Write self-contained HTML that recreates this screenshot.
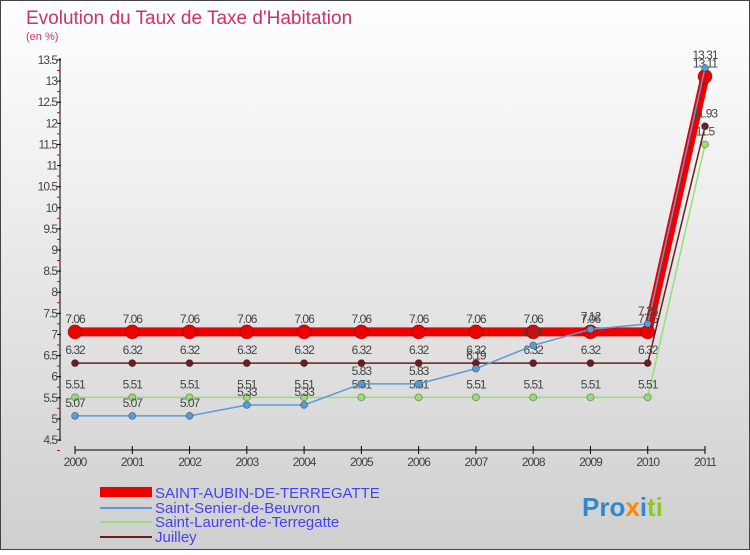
<!DOCTYPE html>
<html><head><meta charset="utf-8"><style>
body{margin:0;width:750px;height:550px;overflow:hidden;font-family:"Liberation Sans",sans-serif}
</style></head><body>
<svg width="750" height="550" xmlns="http://www.w3.org/2000/svg">
<defs><linearGradient id="bg" x1="0" y1="0" x2="0" y2="1"><stop offset="0" stop-color="#ffffff"/><stop offset="1" stop-color="#cfcfcf"/></linearGradient></defs>
<rect x="0.5" y="0.5" width="749" height="549" fill="url(#bg)" stroke="#444"/>
<text x="26" y="24" font-size="19" fill="#cc3366">Evolution du Taux de Taxe d'Habitation</text>
<text x="26" y="40" font-size="11" fill="#cc3366">(en %)</text>
<g id="axes"></g><g id="series"></g>
<g>
<rect x="100" y="487" width="52" height="10" fill="#ee0000"/>
<line x1="100" y1="508" x2="152" y2="508" stroke="#5b9bd5" stroke-width="2"/>
<line x1="100" y1="522" x2="152" y2="522" stroke="#99dd77" stroke-width="2"/>
<line x1="100" y1="537" x2="152" y2="537" stroke="#6b1e1e" stroke-width="2"/>
<text x="155" y="498" font-size="15" fill="#4444ee">SAINT-AUBIN-DE-TERREGATTE</text>
<text x="155" y="513" font-size="15" fill="#4444ee">Saint-Senier-de-Beuvron</text>
<text x="155" y="527" font-size="15" fill="#4444ee">Saint-Laurent-de-Terregatte</text>
<text x="155" y="542" font-size="15" fill="#4444ee">Juilley</text>
</g>
<text x="582" y="516" font-size="26" font-weight="bold"><tspan fill="#3388cc">Pro</tspan><tspan fill="#ff8800">x</tspan><tspan fill="#3388cc">i</tspan><tspan fill="#88cc22">ti</tspan></text>
</svg>
<script>
const years=["2000","2001","2002","2003","2004","2005","2006","2007","2008","2009","2010","2011"];
const yTicks=[4.5,5,5.5,6,6.5,7,7.5,8,8.5,9,9.5,10,10.5,11,11.5,12,12.5,13,13.5];
const juilley=[6.32,6.32,6.32,6.32,6.32,6.32,6.32,6.32,6.32,6.32,6.32,11.93];
const saintLaurent=[5.51,5.51,5.51,5.51,5.51,5.51,5.51,5.51,5.51,5.51,5.51,11.5];
const saintSenier=[5.07,5.07,5.07,5.33,5.33,5.83,5.83,6.19,6.74,7.12,7.25,13.31];
const saintAubin=[7.06,7.06,7.06,7.06,7.06,7.06,7.06,7.06,7.06,7.06,7.06,13.11];
const NS="http://www.w3.org/2000/svg";
const X=i=>75+i*(630/11);
const Y=v=>440-(v-4.5)*(380/9);
function mk(t,a,p){const e=document.createElementNS(NS,t);for(const k in a)e.setAttribute(k,a[k]);p.appendChild(e);return e;}
const ax=document.getElementById('axes');
const yl=mk('line',{x1:60,y1:58,x2:60,y2:441,stroke:'#000'},ax);


yTicks.forEach(v=>{
 const t=mk('line',{x1:57,y1:Y(v),x2:61,y2:Y(v),stroke:'#000'},ax);
 
 
 const m=mk('line',{x1:57,y1:Y(v)+10.5,x2:60,y2:Y(v)+10.5,stroke:'#e00'},ax);
 
 
 const l=mk('text',{x:57,y:Y(v)+4,'font-size':12,'text-anchor':'end',fill:'#444','letter-spacing':'-1'},ax);
 l.textContent=String(v);
 
 
});
const xl=mk('line',{x1:75,y1:450,x2:705,y2:450,stroke:'#000'},ax);


years.forEach((y,i)=>{
 const t=mk('line',{x1:X(i),y1:446,x2:X(i),y2:454,stroke:'#000'},ax);
 
 
 const l=mk('text',{x:X(i),y:466,'font-size':12,'text-anchor':'middle',fill:'#444','letter-spacing':'-1'},ax);
 l.textContent=y;
 
 
});
const sg=document.getElementById('series');
function draw(vals,color,w,r,name){
 const g=mk('g',{},sg);
 
 
 const p=mk('polyline',{points:vals.map((v,i)=>X(i)+','+Y(v)).join(' '),fill:'none',stroke:color,'stroke-width':w},g);
 
 
 vals.forEach((v,i)=>{
  const c=mk('circle',{cx:X(i),cy:Y(v),r:r,fill:color,stroke:'rgba(0,0,0,0.3)'},g);
  
  
  const t=mk('text',{x:X(i),y:Y(v)-9,'font-size':12,'text-anchor':'middle',fill:'#444','letter-spacing':'-1'},g);
  t.textContent=String(v);
  
  
 });
}
draw(saintAubin,'#ee0000',9,7,'saint-aubin');
draw(juilley,'#6b1e1e',1.5,3.5,'juilley');
draw(saintLaurent,'#99dd77',1.5,3.5,'saint-laurent');
draw(saintSenier,'#5b9bd5',1.5,3.5,'saint-senier');
</script>
</body></html>
